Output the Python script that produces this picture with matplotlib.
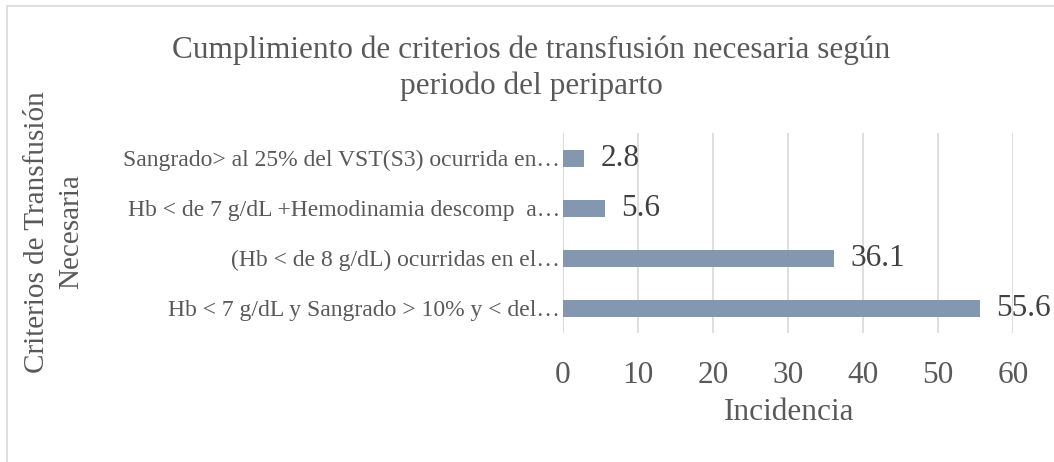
import matplotlib.pyplot as plt
from matplotlib.patches import Rectangle

# datos del gráfico
categorias = [
    "Hb < 7 g/dL y Sangrado > 10% y < del…",
    "(Hb < de 8 g/dL) ocurridas en el…",
    "Hb < de 7 g/dL +Hemodinamia descomp  a…",
    "Sangrado> al 25% del VST(S3) ocurrida en…",
]
valores = [55.6, 36.1, 5.6, 2.8]
ticks_x = [0, 10, 20, 30, 40, 50, 60]

titulo = "Cumplimiento de criterios de transfusión necesaria según\nperiodo del periparto"
etiqueta_x = "Incidencia"
etiqueta_y = "Criterios de Transfusión\nNecesaria"

gris_texto = "#595959"
color_barra = "#8497B0"
color_grid = "#D9D9D9"

plt.rcParams["font.family"] = ["Liberation Serif", "DejaVu Serif"]

fig = plt.figure(figsize=(10.54, 4.62), dpi=100)
ax = fig.add_axes([563 / 1054, 1 - 333 / 462, 450 / 1054, 200 / 462])

pos = range(len(categorias))
ax.barh(pos, valores, height=0.34, color=color_barra, zorder=3)
for y, v in zip(pos, valores):
    ax.text(v + 2.2, y, f"{v}", va="center", ha="left", fontsize=22.5, color="#404040")

ax.set_xlim(0, 60)
ax.set_ylim(-0.5, len(categorias) - 0.5)
ax.set_xticks(ticks_x)
ax.set_xticklabels([str(t) for t in ticks_x], fontsize=22.5, color=gris_texto)
ax.set_yticks(list(pos))
ax.set_yticklabels(categorias, fontsize=17, color=gris_texto)
ax.tick_params(length=0, pad=2)
ax.tick_params(axis="x", pad=20)
ax.grid(axis="x", color=color_grid, linewidth=1.2, zorder=0)
for s in ax.spines.values():
    s.set_visible(False)
ax.axvline(0, color=color_grid, linewidth=1.2, zorder=1)

fig.text(789 / 1054, 1 - 412 / 462, etiqueta_x, ha="center", va="center", fontsize=22.5, color=gris_texto)
fig.text(54 / 1054, 1 - 232 / 462, etiqueta_y, ha="center", va="center", rotation=90,
         fontsize=21, color=gris_texto, linespacing=1.38)
fig.text(531 / 1054, 1 - 68 / 462, titulo, ha="center", va="center", fontsize=22.5,
         color=gris_texto, linespacing=1.3)

# borde del gráfico
fig.patches.append(Rectangle((7 / 1054, -0.1), 1.2, 1 - 6 / 462 + 0.1, transform=fig.transFigure,
                             fill=False, edgecolor=color_grid, linewidth=1.2))

fig.savefig("out.png", dpi=100)
